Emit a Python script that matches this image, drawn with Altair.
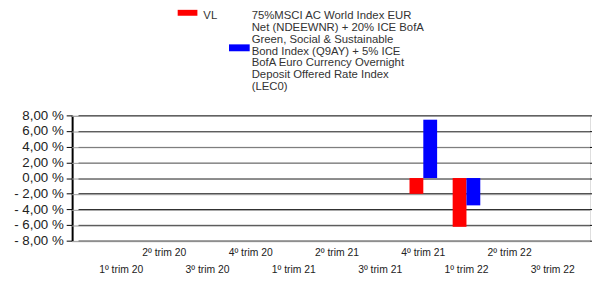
import altair as alt
import pandas as pd

categories = ["1º trim 20", "2º trim 20", "3º trim 20", "4º trim 20",
              "1º trim 21", "2º trim 21", "3º trim 21", "4º trim 21",
              "1º trim 22", "2º trim 22", "3º trim 22"]
vl_values = [None, None, None, None, None, None, None, -2.02, -6.23, None, None]
bench_values = [None, None, None, None, None, None, None, 7.45, -3.49, None, None]
series_names = ["VL", "75%MSCI AC World Index EUR\nNet (NDEEWNR) + 20% ICE BofA\nGreen, Social & Sustainable\nBond Index (Q9AY) + 5% ICE\nBofA Euro Currency Overnight\nDeposit Offered Rate Index\n(LEC0)"]
series_colors = ["#ff0000", "#0000ff"]
y_ticks = [-8, -6, -4, -2, 0, 2, 4, 6, 8]

rows = []
for c, v, b in zip(categories, vl_values, bench_values):
    if v is not None:
        rows.append({"cat": c, "series": "VL", "value": v})
    if b is not None:
        rows.append({"cat": c, "series": "Bench", "value": b})
bars_df = pd.DataFrame(rows)
labels_df = pd.DataFrame({"cat": categories, "row": [i % 2 for i in range(len(categories))]})
ticks_df = pd.DataFrame({"value": y_ticks})

W, H = 525, 127
xscale = alt.Scale(domain=categories, paddingInner=0, paddingOuter=0.5, range=[6, W + 6])
yscale = alt.Scale(domain=[-8, 8], nice=False, zero=False)
yaxis = alt.Axis(
    values=y_ticks, title=None, grid=True, gridColor="#000000", gridWidth=1, gridOpacity=1,
    domainColor="#000000", domainWidth=2, tickColor="#000000", tickSize=6, tickWidth=1,
    labelFont="Liberation Sans", labelFontSize=13.5, labelColor="#222222", labelPadding=3,
    labelExpr="(datum.value < 0 ? '- ' : '') + replace(format(abs(datum.value), '.2f'), '.', ',') + ' %'")

shadow = alt.Chart(ticks_df).mark_rule(color="#9a9a9a", strokeWidth=1, yOffset=1).encode(
    y=alt.Y("value:Q", scale=yscale, axis=yaxis)
)

bars = alt.Chart(bars_df).mark_bar().encode(
    x=alt.X("cat:N", scale=xscale, axis=None),
    xOffset=alt.XOffset("series:N", scale=alt.Scale(domain=["VL", "Bench"], paddingInner=0, paddingOuter=0.5625)),
    y=alt.Y("value:Q", scale=yscale, axis=yaxis),
    color=alt.Color("series:N", scale=alt.Scale(domain=["VL", "Bench"], range=series_colors), legend=None),
)

lab_top = alt.Chart(labels_df[labels_df.row == 1]).mark_text(
    font="Liberation Sans", fontSize=10.5, color="#222222", baseline="middle", align="center"
).encode(x=alt.X("cat:N", scale=xscale, axis=None), y=alt.value(H + 13), text="cat:N")
lab_bot = alt.Chart(labels_df[labels_df.row == 0]).mark_text(
    font="Liberation Sans", fontSize=10.5, color="#222222", baseline="middle", align="center"
).encode(x=alt.X("cat:N", scale=xscale, axis=None), y=alt.value(H + 30), text="cat:N")

leg_df = pd.DataFrame({"name": series_names, "color": series_colors})
sw1 = alt.Chart(leg_df.iloc[[0]]).mark_rect(color=series_colors[0]).encode(
    x=alt.value(107), x2=alt.value(127), y=alt.value(-107), y2=alt.value(-101))
sw2 = alt.Chart(leg_df.iloc[[1]]).mark_rect(color=series_colors[1]).encode(
    x=alt.value(159), x2=alt.value(180), y=alt.value(-72), y2=alt.value(-65))
t1 = alt.Chart(leg_df.iloc[[0]]).mark_text(
    font="Liberation Sans", fontSize=11.5, color="#333333", align="left", baseline="top"
).encode(x=alt.value(133), y=alt.value(-107), text="name:N")
t2 = alt.Chart(leg_df.iloc[[1]]).mark_text(
    font="Liberation Sans", fontSize=11.5, color="#333333", align="left", baseline="top",
    lineBreak="\n", lineHeight=12.1
).encode(x=alt.value(182), y=alt.value(-107), text="name:N")

chart = alt.layer(shadow, bars, lab_top, lab_bot, sw1, sw2, t1, t2).properties(
    width=W, height=H,
    autosize=alt.AutoSizeParams(type="none"),
    padding={"left": 65, "top": 107, "right": 2, "bottom": 38},
).configure_view(stroke="#000000", strokeWidth=1.5).configure(background="white")

chart.save("out.html", embed_options={"renderer": "svg", "actions": False})
